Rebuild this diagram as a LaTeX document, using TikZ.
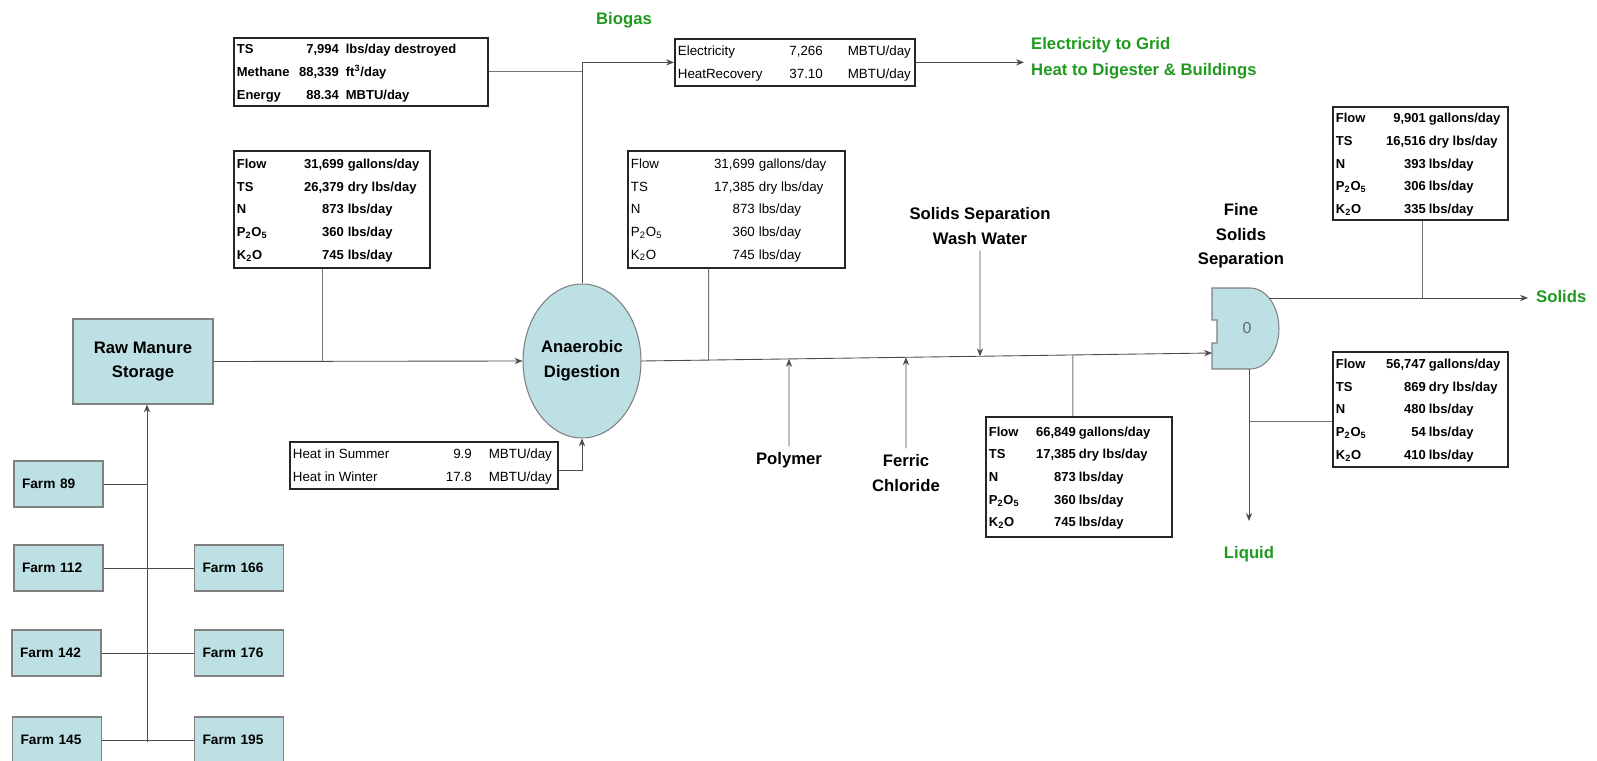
\documentclass[tikz,border=0pt]{standalone}
\usepackage{fontspec}
\setmainfont{Liberation Sans}
\usepackage{array}
\usetikzlibrary{arrows.meta,positioning,calc,shapes.geometric}
\definecolor{tealfill}{HTML}{BCE0E3}
\definecolor{flowgreen}{HTML}{1E9A1E}
\newcolumntype{R}[1]{>{\raggedleft\arraybackslash}p{#1}}
% width, label col, number col, gap, rows
\newcommand{\datatab}[5]{\makebox[#1][l]{\begin{tabular}{@{}p{#2}@{}R{#3}@{\hspace{#4}}l@{}}#5\end{tabular}}}
\newcommand{\ptwo}{P\textsubscript{2}O\textsubscript{5}}
\newcommand{\ktwo}{K\textsubscript{2}O}
\tikzset{
  >={Stealth[length=4.5pt,width=3.6pt]},
  unit/.style={fill=tealfill,draw=black!50,line width=0.6pt},
  store/.style={unit,minimum width=2.8cm,minimum height=1.7cm,inner sep=0pt,
                align=center,font=\bfseries\fontsize{9.5}{14}\selectfont},
  digester/.style={unit,ellipse,minimum width=2.36cm,minimum height=3.08cm,inner sep=0pt,
                align=center,font=\bfseries\fontsize{9.5}{14}\selectfont},
  farm/.style={unit,minimum width=1.78cm,minimum height=0.92cm,inner xsep=0.16cm,
               text width=1.46cm,align=left,font=\bfseries\fontsize{7.8}{9}\selectfont},
  tbl/.style={draw=black!85,line width=1pt,fill=white,anchor=north west,inner sep=0pt,
              font=\fontsize{7.6}{12.9}\selectfont},
  tblb/.style={tbl,font=\bfseries\fontsize{7.4}{12.9}\selectfont},
  lbl/.style={align=center,font=\bfseries\fontsize{9.5}{14}\selectfont},
  grn/.style={lbl,text=flowgreen},
  fl/.style={draw=black!70,line width=0.5pt},
  tap/.style={draw=black!55,line width=0.5pt},
}
\begin{document}
\begin{tikzpicture}[x=0.02cm,y=-0.02cm]
\useasboundingbox (0,0) rectangle (1597,761);
  % units
  \node[store] (rms) at (143,361.5) {Raw Manure\\Storage};
  \node[digester] (dig) at (582,361) {Anaerobic\\Digestion};
  \draw[unit] (1212,288) -- (1212,320) -- (1217,320) -- (1217,343) -- (1212,343) -- (1212,369)
    -- (1250,369) arc[start angle=-90,end angle=90,x radius=0.58cm,y radius=0.81cm] -- cycle;
  \node[font=\fontsize{9}{10}\selectfont,text=black!60] (sepo) at (1247,328) {0};
  \coordinate (sepin) at (1212,353);
  \coordinate (sout) at (1269,298);
  \coordinate (solend) at (1528,298);
  \coordinate (lout) at (1249,369);
  \coordinate (liqend) at (1249,521);
  \coordinate (gridend) at (1024,61.5);
  \coordinate (trunk) at (147,742);

  % farms
  \node[farm] (f89) at (58.5,484) {Farm 89};
  \node[farm] (f112) at (58.5,568) {Farm 112};
  \node[farm] (f142) at (56.5,653) {Farm 142};
  \node[farm] (f145) at (57,740) {Farm 145};
  \node[farm] (f166) at (239,568) {Farm 166};
  \node[farm] (f176) at (239,653) {Farm 176};
  \node[farm] (f195) at (239,740) {Farm 195};

  % data tables
  \node[tblb,minimum width=5.08cm,minimum height=1.36cm] (t0) at (233,37)
    {\datatab{4.96cm}{1.08cm}{0.96cm}{0.14cm}{TS & 7,994 & lbs/day destroyed\\
      Methane & 88,339 & ft\textsuperscript{3}/day\\ Energy & 88.34 & MBTU/day}};
  \node[tbl,minimum width=4.8cm,minimum height=0.94cm] (elec) at (674,38)
    {\datatab{4.68cm}{2.1cm}{0.8cm}{0.5cm}{Electricity & 7,266 & MBTU/day\\
      HeatRecovery & 37.10 & MBTU/day}};
  \node[tblb,minimum width=3.92cm,minimum height=2.34cm] (t1) at (233,150)
    {\datatab{3.8cm}{1.08cm}{1.06cm}{0.08cm}{Flow & 31,699 & gallons/day\\
      TS & 26,379 & dry lbs/day\\ N & 873 & lbs/day\\ \ptwo & 360 & lbs/day\\ \ktwo & 745 & lbs/day}};
  \node[tbl,minimum width=5.36cm,minimum height=0.94cm] (heat) at (289,441)
    {\datatab{5.24cm}{2.56cm}{1.02cm}{0.34cm}{Heat in Summer & 9.9 & MBTU/day\\
      Heat in Winter & 17.8 & MBTU/day}};
  \node[tbl,minimum width=4.34cm,minimum height=2.34cm] (t2) at (627,150)
    {\datatab{4.22cm}{1.4cm}{1.08cm}{0.08cm}{Flow & 31,699 & gallons/day\\
      TS & 17,385 & dry lbs/day\\ N & 873 & lbs/day\\ \ptwo & 360 & lbs/day\\ \ktwo & 745 & lbs/day}};
  \node[tblb,minimum width=3.72cm,minimum height=2.4cm] (t3) at (985,416)
    {\datatab{3.6cm}{0.84cm}{0.9cm}{0.06cm}{Flow & 66,849 & gallons/day\\
      TS & 17,385 & dry lbs/day\\ N & 873 & lbs/day\\ \ptwo & 360 & lbs/day\\ \ktwo & 745 & lbs/day}};
  \node[tblb,minimum width=3.5cm,minimum height=2.26cm] (t4) at (1332,106)
    {\datatab{3.38cm}{0.9cm}{0.9cm}{0.06cm}{Flow & 9,901 & gallons/day\\
      TS & 16,516 & dry lbs/day\\ N & 393 & lbs/day\\ \ptwo & 306 & lbs/day\\ \ktwo & 335 & lbs/day}};
  \node[tblb,minimum width=3.5cm,minimum height=2.3cm] (t5) at (1332,351)
    {\datatab{3.38cm}{0.9cm}{0.9cm}{0.06cm}{Flow & 56,747 & gallons/day\\
      TS & 869 & dry lbs/day\\ N & 480 & lbs/day\\ \ptwo & 54 & lbs/day\\ \ktwo & 410 & lbs/day}};

  % labels
  \node[grn] (bio) at (624,20) {Biogas};
  \node[grn,anchor=west,align=left,font=\bfseries\fontsize{9.5}{14.7}\selectfont] (grid) at (1025,58)
    {Electricity to Grid\\Heat to Digester \& Buildings};
  \node[lbl] (ww) at (980,226) {Solids Separation\\Wash Water};
  \node[lbl] (fsl) at (1241,236) {Fine\\Solids\\Separation};
  \node[lbl] (pol) at (789,460) {Polymer};
  \node[lbl] (fec) at (906,473) {Ferric\\Chloride};
  \node[grn,anchor=west] (sol) at (1530,297) {Solids};
  \node[grn] (liq) at (1249,554) {Liquid};

  % flows
  \draw[fl,->] (trunk) -- (trunk |- rms.south);
  \draw[fl] (f89.east) -- (f89.east -| trunk);
  \draw[fl] (f112.east) -- (f166.west);
  \draw[fl] (f142.east) -- (f176.west);
  \draw[fl] (f145.east) -- (f195.west);
  \draw[fl,->] (rms.east) -- (dig.west);
  \draw[fl,->] (dig.east) -- (sepin);
  \draw[fl,->] (dig.north) |- (elec.west);
  \draw[fl,->] (elec.east) -- (elec.east -| gridend);
  \coordinate (htap) at ($(heat.north east)!0.6!(heat.south east)$);
  \draw[fl,->] (htap) -| (dig.south);
  \coordinate (polup) at ($(pol.north)+(0,-200)$);
  \draw[fl,->] (pol.north) -- (intersection of dig.east--sepin and pol.north--polup);
  \coordinate (fecup) at ($(fec.north)+(0,-200)$);
  \draw[fl,->] (fec.north) -- (intersection of dig.east--sepin and fec.north--fecup);
  \coordinate (wwdn) at ($(ww.south)+(0,200)$);
  \draw[fl,->] (ww.south) -- (intersection of dig.east--sepin and ww.south--wwdn);
  \draw[fl,->] (sout) -- (solend);
  \draw[fl,->] (lout) -- (liqend);

  % table taps
  \draw[tap] (t0.east) -- (t0.east -| dig.north);
  \coordinate (t1tap) at ($(t1.south west)!0.454!(t1.south east)$);
  \draw[tap] (t1tap) -- (t1tap |- rms.east);
  \coordinate (t2tap) at ($(t2.south west)!0.373!(t2.south east)$);
  \coordinate (t2dn) at ($(t2tap)+(0,200)$);
  \draw[tap] (t2tap) -- (intersection of dig.east--sepin and t2tap--t2dn);
  \coordinate (t3tap) at ($(t3.north west)!0.468!(t3.north east)$);
  \coordinate (t3up) at ($(t3tap)+(0,-200)$);
  \draw[tap] (t3tap) -- (intersection of dig.east--sepin and t3tap--t3up);
  \coordinate (t4tap) at ($(t4.south west)!0.509!(t4.south east)$);
  \draw[tap] (t4tap) -- (t4tap |- sout);
  \coordinate (t5tap) at ($(t5.north west)!0.6!(t5.south west)$);
  \draw[tap] (t5tap) -- (t5tap -| lout);
\end{tikzpicture}
\end{document}
